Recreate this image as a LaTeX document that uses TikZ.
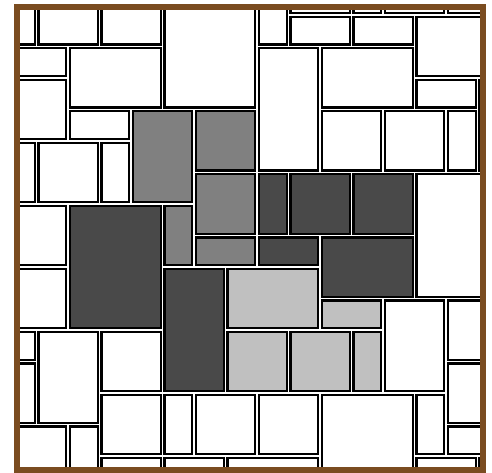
\documentclass[tikz,border=0pt]{standalone}
\usepackage{xcolor}
\definecolor{pavebrown}{RGB}{122, 76, 32}
\definecolor{slabdark}{RGB}{ 73, 73, 73}
\definecolor{slabmid}{RGB}{128,128,128}
\definecolor{slablight}{RGB}{192,192,192}
\usepackage{tikz}

% one paving slab: top-left corner (#1,#2), bottom-right corner (#3,#4), fill #5
\newcommand{\slab}[5]{%
  \draw[slabline, fill=#5] ([xshift=1.9pt, yshift=-1.9pt]#1,#2)
    rectangle ([xshift=-1.9pt, yshift=1.9pt]#3,#4);}

\begin{document}
\begin{tikzpicture}[x=31.5pt, y=-31.5pt]

  \tikzstyle{slabline} = [draw=black, line width=2.2pt]

  \useasboundingbox (-5pt,15pt) rectangle (487pt,-458pt);

  \begin{scope}
    \clip (12pt,8pt) rectangle (478pt,-455pt);

    % top rows
    \slab{0}{-1}{1}{1}{white}
    \slab{1}{-1}{3}{1}{white}
    \slab{3}{-1}{5}{1}{white}
    \slab{5}{-1}{8}{3}{white}
    \slab{8}{-1}{9}{1}{white}
    \slab{9}{-1}{11}{0}{white}
    \slab{11}{-1}{12}{0}{white}
    \slab{12}{-1}{14}{0}{white}
    \slab{14}{-1}{16}{0}{white}
    \slab{9}{0}{11}{1}{white}
    \slab{11}{0}{13}{1}{white}
    \slab{13}{0}{16}{2}{white}
    \slab{0}{1}{2}{2}{white}
    \slab{2}{1}{5}{3}{white}
    \slab{8}{1}{10}{5}{white}
    \slab{10}{1}{13}{3}{white}
    \slab{0}{2}{2}{4}{white}
    \slab{13}{2}{15}{3}{white}
    \slab{15}{2}{16}{5}{white}
    \slab{2}{3}{4}{4}{white}
    \slab{10}{3}{12}{5}{white}
    \slab{12}{3}{14}{5}{white}
    \slab{14}{3}{15}{5}{white}
    \slab{0}{4}{1}{6}{white}
    \slab{1}{4}{3}{6}{white}
    \slab{3}{4}{4}{6}{white}

    % grey slabs
    \slab{4}{3}{6}{6}{slabmid}
    \slab{6}{3}{8}{5}{slabmid}
    \slab{6}{5}{8}{7}{slabmid}
    \slab{5}{6}{6}{8}{slabmid}
    \slab{6}{7}{8}{8}{slabmid}

    % dark slabs
    \slab{8}{5}{9}{7}{slabdark}
    \slab{9}{5}{11}{7}{slabdark}
    \slab{11}{5}{13}{7}{slabdark}
    \slab{2}{6}{5}{10}{slabdark}
    \slab{8}{7}{10}{8}{slabdark}
    \slab{10}{7}{13}{9}{slabdark}
    \slab{5}{8}{7}{12}{slabdark}

    % light slabs
    \slab{7}{8}{10}{10}{slablight}
    \slab{10}{9}{12}{10}{slablight}
    \slab{7}{10}{9}{12}{slablight}
    \slab{9}{10}{11}{12}{slablight}
    \slab{11}{10}{12}{12}{slablight}

    % middle and bottom rows
    \slab{13}{5}{16}{9}{white}
    \slab{0}{6}{2}{8}{white}
    \slab{0}{8}{2}{10}{white}
    \slab{12}{9}{14}{12}{white}
    \slab{14}{9}{16}{11}{white}
    \slab{0}{10}{1}{11}{white}
    \slab{1}{10}{3}{13}{white}
    \slab{3}{10}{5}{12}{white}
    \slab{0}{11}{1}{13}{white}
    \slab{14}{11}{16}{13}{white}
    \slab{3}{12}{5}{14}{white}
    \slab{5}{12}{6}{14}{white}
    \slab{6}{12}{8}{14}{white}
    \slab{8}{12}{10}{14}{white}
    \slab{10}{12}{13}{15}{white}
    \slab{13}{12}{14}{14}{white}
    \slab{0}{13}{2}{15}{white}
    \slab{2}{13}{3}{15}{white}
    \slab{14}{13}{16}{14}{white}
    \slab{3}{14}{5}{15}{white}
    \slab{5}{14}{7}{15}{white}
    \slab{7}{14}{10}{15}{white}
    \slab{13}{14}{15}{15}{white}
    \slab{15}{14}{16}{15}{white}
  \end{scope}

  \draw[line width=6pt, color=pavebrown] (12pt,8pt) rectangle (478pt,-455pt);

\end{tikzpicture}
\end{document}
